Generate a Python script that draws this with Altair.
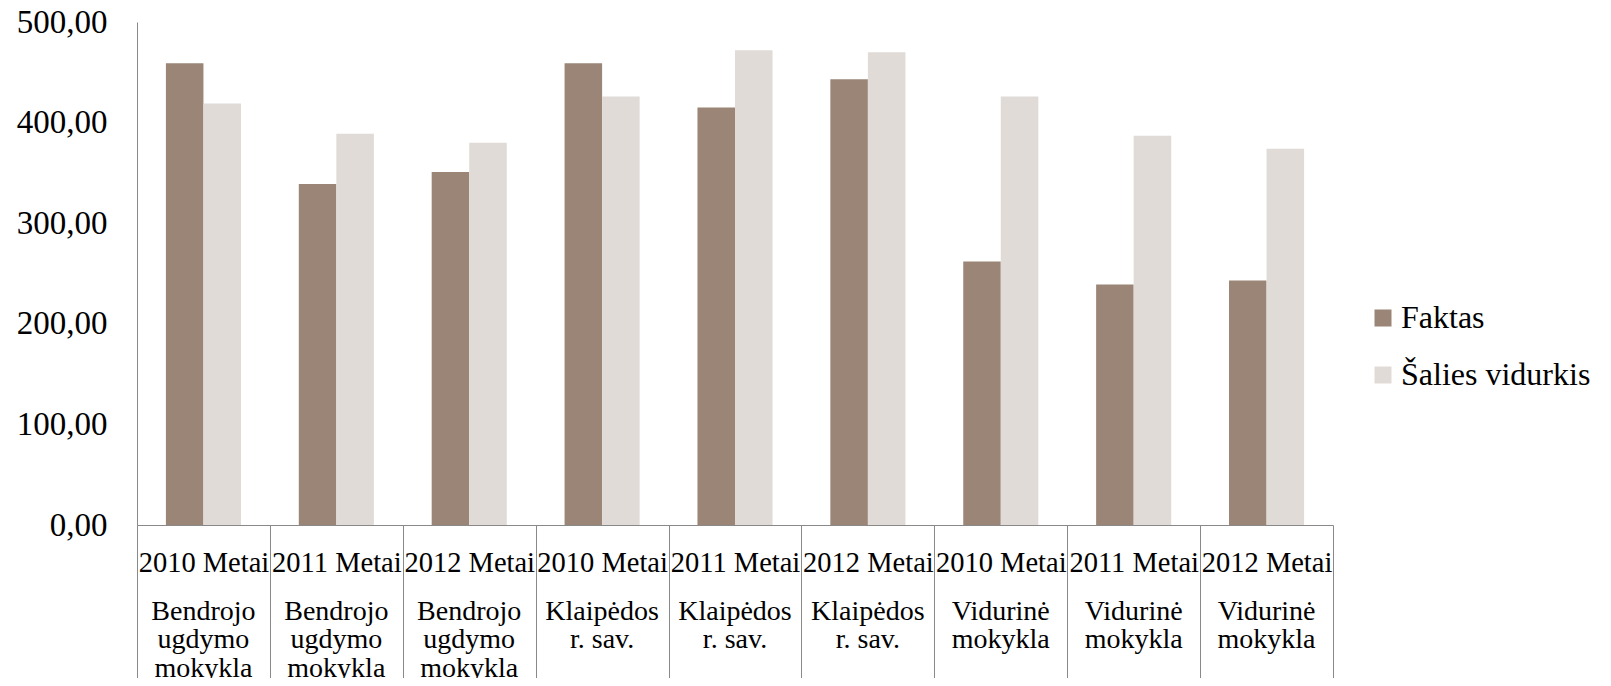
import altair as alt
import pandas as pd

years = ["2010 Metai", "2011 Metai", "2012 Metai",
         "2010 Metai", "2011 Metai", "2012 Metai",
         "2010 Metai", "2011 Metai", "2012 Metai"]
categories = ["Bendrojo|ugdymo|mokykla"] * 3 + ["Klaipėdos|r. sav."] * 3 + ["Vidurinė|mokykla"] * 3
faktas = [459, 339, 351, 459, 415, 443, 262, 239, 243]
salies = [419, 389, 380, 426, 472, 470, 426, 387, 374]
series = ["Faktas", "Šalies vidurkis"]
colors = ["#9B8577", "#E0DBD7"]

keys = [f"{y}|{c}" for y, c in zip(years, categories)]
rows = []
for k, f, s in zip(keys, faktas, salies):
    rows.append({"key": k, "series": series[0], "value": f})
    rows.append({"key": k, "series": series[1], "value": s})
df = pd.DataFrame(rows)

FONT = "Liberation Serif"
xscale = alt.Scale(paddingInner=0, paddingOuter=0)
yscale = alt.Scale(domain=[0, 500], nice=False)
yaxis = alt.Axis(title=None, values=[0, 100, 200, 300, 400, 500],
                 labelExpr="replace(format(datum.value, '.2f'), '.', ',')",
                 labelFont=FONT, labelFontSize=33, labelColor="#000000",
                 labelPadding=30, ticks=False, grid=False,
                 domainColor="#898989", domainWidth=1)

bars = alt.Chart(df).mark_bar().encode(
    x=alt.X("key:N", sort=keys, scale=xscale,
            axis=alt.Axis(title=None, labelAngle=0, orient="bottom",
                          labelExpr="split(datum.label, '|')[0]",
                          labelFont=FONT, labelFontSize=28.5, labelColor="#000000",
                          labelBaseline="top",
                          labelPadding=-137,
                          ticks=True, tickBand="extent", tickSize=160,
                          tickColor="#898989", tickWidth=1,
                          domainColor="#898989", domainWidth=1,
                          labelOverlap=False, labelBound=False)),
    xOffset=alt.XOffset("series:N", sort=series,
                        scale=alt.Scale(paddingInner=0, paddingOuter=0.77)),
    y=alt.Y("value:Q", scale=yscale, axis=yaxis),
    color=alt.Color("series:N", sort=series,
                    scale=alt.Scale(domain=series, range=colors),
                    legend=alt.Legend(title=None, orient="none",
                                      legendX=1230, legendY=280,
                                      symbolType="square", symbolSize=289,
                                      symbolStrokeWidth=0,
                                      labelFont=FONT, labelFontSize=32,
                                      labelColor="#000000", labelOffset=2,
                                      labelLimit=400,
                                      rowPadding=25, padding=0)),
)

cat_axis = alt.Chart(df).mark_bar(opacity=0).encode(
    x=alt.X("key:N", sort=keys, scale=xscale,
            axis=alt.Axis(title=None, labelAngle=0, orient="bottom",
                          labelExpr="slice(split(datum.label, '|'), 1)",
                          labelFont=FONT, labelFontSize=28, labelColor="#000000",
                          labelLineHeight=28.5, labelBaseline="top",
                          labelPadding=72, ticks=False, domain=False,
                          labelOverlap=False, labelBound=False)),
    y=alt.Y("value:Q", scale=yscale, axis=yaxis),
)

chart = alt.layer(bars, cat_axis).resolve_axis(x="independent").properties(
    width=1196, height=503,
    autosize=alt.AutoSizeParams(type="none"),
    padding={"left": 129, "top": 14, "right": 270, "bottom": 153},
).configure_view(stroke=None)

chart.save("out.html", embed_options={"renderer": "svg", "actions": False})
